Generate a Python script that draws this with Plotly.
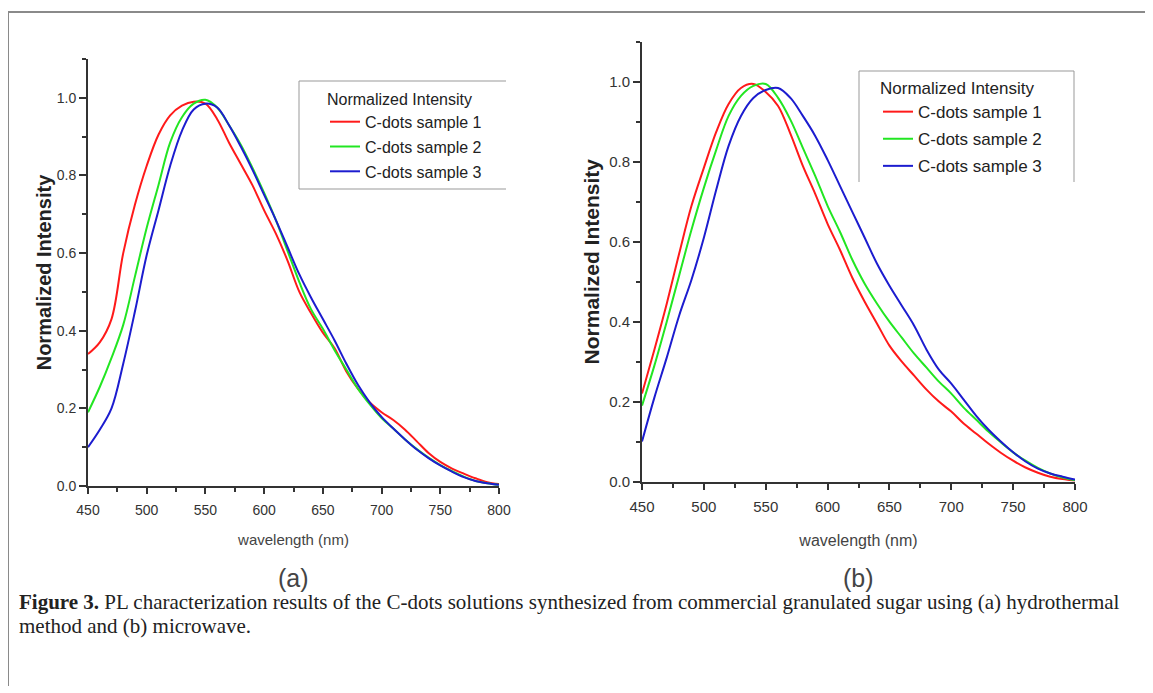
import plotly.graph_objects as go

W, H = 1153, 693
OX, OY = 8, 8  # page body margin offset of the figure inside the browser window

wavelength = [450, 460, 470, 480, 490, 500, 510, 520, 530, 540, 550, 560, 570, 580, 590, 600, 610, 620,
              630, 640, 650, 660, 670, 680, 690, 700, 710, 720, 730, 740, 750, 760, 770, 780, 790, 800]

a_sample1 = [0.34, 0.37, 0.43, 0.60, 0.725, 0.825, 0.905, 0.955, 0.98, 0.99, 0.985, 0.945, 0.885, 0.83,
             0.775, 0.71, 0.65, 0.58, 0.50, 0.445, 0.395, 0.355, 0.295, 0.25, 0.215, 0.19, 0.17, 0.145,
             0.115, 0.085, 0.062, 0.045, 0.032, 0.02, 0.01, 0.005]
a_sample2 = [0.19, 0.255, 0.33, 0.415, 0.54, 0.665, 0.775, 0.885, 0.95, 0.985, 0.995, 0.975, 0.93, 0.88,
             0.82, 0.755, 0.685, 0.605, 0.525, 0.455, 0.405, 0.35, 0.30, 0.25, 0.21, 0.175, 0.148, 0.12,
             0.095, 0.073, 0.054, 0.038, 0.024, 0.013, 0.007, 0.003]
a_sample3 = [0.10, 0.145, 0.20, 0.315, 0.45, 0.595, 0.71, 0.825, 0.915, 0.97, 0.985, 0.975, 0.93, 0.875,
             0.815, 0.75, 0.685, 0.615, 0.545, 0.485, 0.43, 0.375, 0.315, 0.26, 0.215, 0.178, 0.148, 0.12,
             0.094, 0.072, 0.053, 0.037, 0.023, 0.013, 0.007, 0.003]

b_sample1 = [0.22, 0.33, 0.445, 0.57, 0.69, 0.785, 0.875, 0.945, 0.985, 0.995, 0.975, 0.94, 0.87, 0.79,
             0.72, 0.645, 0.58, 0.51, 0.45, 0.395, 0.34, 0.30, 0.265, 0.23, 0.20, 0.175, 0.145, 0.12,
             0.095, 0.072, 0.052, 0.035, 0.022, 0.012, 0.006, 0.002]
b_sample2 = [0.19, 0.29, 0.40, 0.515, 0.63, 0.735, 0.83, 0.915, 0.965, 0.99, 0.995, 0.96, 0.905, 0.835,
             0.765, 0.69, 0.625, 0.555, 0.495, 0.445, 0.40, 0.36, 0.32, 0.285, 0.25, 0.22, 0.185, 0.155,
             0.125, 0.098, 0.073, 0.052, 0.034, 0.02, 0.01, 0.003]
b_sample3 = [0.10, 0.21, 0.31, 0.415, 0.505, 0.61, 0.73, 0.84, 0.915, 0.96, 0.98, 0.985, 0.96, 0.915,
             0.865, 0.805, 0.74, 0.675, 0.61, 0.545, 0.49, 0.44, 0.39, 0.33, 0.28, 0.245, 0.205, 0.165,
             0.13, 0.10, 0.073, 0.05, 0.032, 0.02, 0.012, 0.005]

series_names = ["C-dots sample 1", "C-dots sample 2", "C-dots sample 3"]
colors = ["#ff1a1a", "#22e622", "#1c1ccf"]
y_ticks = [0.0, 0.2, 0.4, 0.6, 0.8, 1.0]
x_ticks = [450, 500, 550, 600, 650, 700, 750, 800]
panel_labels = ["(a)", "(b)"]
caption_1 = ("<b>Figure 3.</b> PL characterization results of the C-dots solutions synthesized from "
             "commercial granulated sugar using (a) hydrothermal")
caption_2 = "method and (b) microwave."


def px(x):
    return (x - OX) / W


def py(y):
    return 1 - (y - OY) / H


fig = go.Figure()

for i, (ys, name, col) in enumerate(zip([a_sample1, a_sample2, a_sample3], series_names, colors)):
    fig.add_trace(go.Scatter(x=wavelength, y=ys, mode="lines", name=name,
                             line=dict(color=col, width=2, shape="spline"),
                             xaxis="x", yaxis="y", legend="legend", legendgroup="a%d" % i))
for i, (ys, name, col) in enumerate(zip([b_sample1, b_sample2, b_sample3], series_names, colors)):
    fig.add_trace(go.Scatter(x=wavelength, y=ys, mode="lines", name=name,
                             line=dict(color=col, width=2, shape="spline"),
                             xaxis="x2", yaxis="y2", legend="legend2", legendgroup="b%d" % i))

font_sans = "Liberation Sans, Arial, sans-serif"
font_serif = "Liberation Serif, Times New Roman, serif"


def xaxis_cfg(domain, anchor, fs, standoff):
    return dict(domain=domain, anchor=anchor, automargin=False, range=[450, 800], tickvals=x_ticks,
                ticks="outside", ticklen=6,
                tickwidth=1.5, tickcolor="#333", showline=True, linecolor="#333", linewidth=2,
                showgrid=False, zeroline=False, tickfont=dict(family=font_sans, size=fs, color="#333"),
                minor=dict(dtick=25, tick0=450, ticks="outside", ticklen=4, tickcolor="#333", showgrid=False),
                ticklabelstandoff=4,
                title=dict(text="wavelength (nm)", font=dict(family=font_sans, size=fs + 1, color="#444"),
                           standoff=standoff))


def yaxis_cfg(domain, anchor, fs, tfs, standoff):
    return dict(domain=domain, range=[0, 1.1], tickvals=y_ticks, tickformat=".1f", ticks="outside",
                ticklen=7, tickwidth=1.5, tickcolor="#333", showline=True, linecolor="#333", linewidth=2,
                showgrid=False, zeroline=False, anchor=anchor, automargin=False,
                tickfont=dict(family=font_sans, size=fs, color="#333"),
                minor=dict(dtick=0.1, tick0=0, ticks="outside", ticklen=4, tickcolor="#333", showgrid=False),
                title=dict(text="<b>Normalized Intensity</b>", font=dict(family=font_sans, size=tfs, color="#222"),
                           standoff=standoff))


def seg(x0, y0, x1, y1, color, width):
    return dict(type="line", xref="paper", yref="paper", x0=px(x0), x1=px(x1), y0=py(y0), y1=py(y1),
                line=dict(color=color, width=width))


shapes = [
    # outer figure frame (top and left edges visible)
    seg(8, 12, 1170, 12, "#8a8a8a", 2),
    seg(8, 12, 8, 686, "#8a8a8a", 2),
    # legend box (a): top, left, bottom
    seg(299, 81, 506, 81, "#999", 1),
    seg(299, 81, 299, 189, "#999", 1),
    seg(299, 189, 506, 189, "#999", 1),
    # legend box (b): top, left, right
    seg(859, 71, 1074, 71, "#999", 1),
    seg(859, 71, 859, 182, "#999", 1),
    seg(1074, 71, 1074, 182, "#999", 1),
]

annotations = [
    dict(text=panel_labels[0], x=px(293), y=py(578), xref="paper", yref="paper", showarrow=False,
         font=dict(family=font_sans, size=25, color="#444"), xanchor="center", yanchor="middle"),
    dict(text=panel_labels[1], x=px(858), y=py(578), xref="paper", yref="paper", showarrow=False,
         font=dict(family=font_sans, size=25, color="#444"), xanchor="center", yanchor="middle"),
    dict(text=caption_1, x=px(17), y=py(602), xref="paper", yref="paper", showarrow=False,
         font=dict(family=font_serif, size=21, color="#222"),
         xanchor="left", yanchor="middle"),
    dict(text=caption_2, x=px(17), y=py(626), xref="paper", yref="paper", showarrow=False,
         font=dict(family=font_serif, size=21, color="#222"),
         xanchor="left", yanchor="middle"),
]

legend_common = dict(bgcolor="rgba(0,0,0,0)", borderwidth=0, xanchor="left", yanchor="top", itemwidth=30)

fig.update_layout(
    template="none",
    width=W, height=H, margin=dict(l=0, r=0, t=0, b=0, pad=0, autoexpand=False),
    paper_bgcolor="white", plot_bgcolor="white",
    xaxis=xaxis_cfg([px(88), px(499)], "y", 14, 18),
    yaxis=yaxis_cfg([py(486), py(59)], "x", 14, 20, 0),
    xaxis2=xaxis_cfg([px(642), px(1075)], "y2", 15, 21),
    yaxis2=yaxis_cfg([py(481.5), py(42)], "x2", 15, 21, 4),
    legend=dict(x=px(325), y=py(84), font=dict(family=font_sans, size=16, color="#222"),
                title=dict(text="Normalized Intensity", font=dict(family=font_sans, size=16, color="#222")),
                tracegroupgap=1, **legend_common),
    legend2=dict(x=px(878), y=py(72), font=dict(family=font_sans, size=17, color="#222"),
                 title=dict(text="Normalized Intensity", font=dict(family=font_sans, size=17, color="#222")),
                 tracegroupgap=2, **legend_common),
    shapes=shapes, annotations=annotations, showlegend=True,
)

fig.write_html("out.html")
